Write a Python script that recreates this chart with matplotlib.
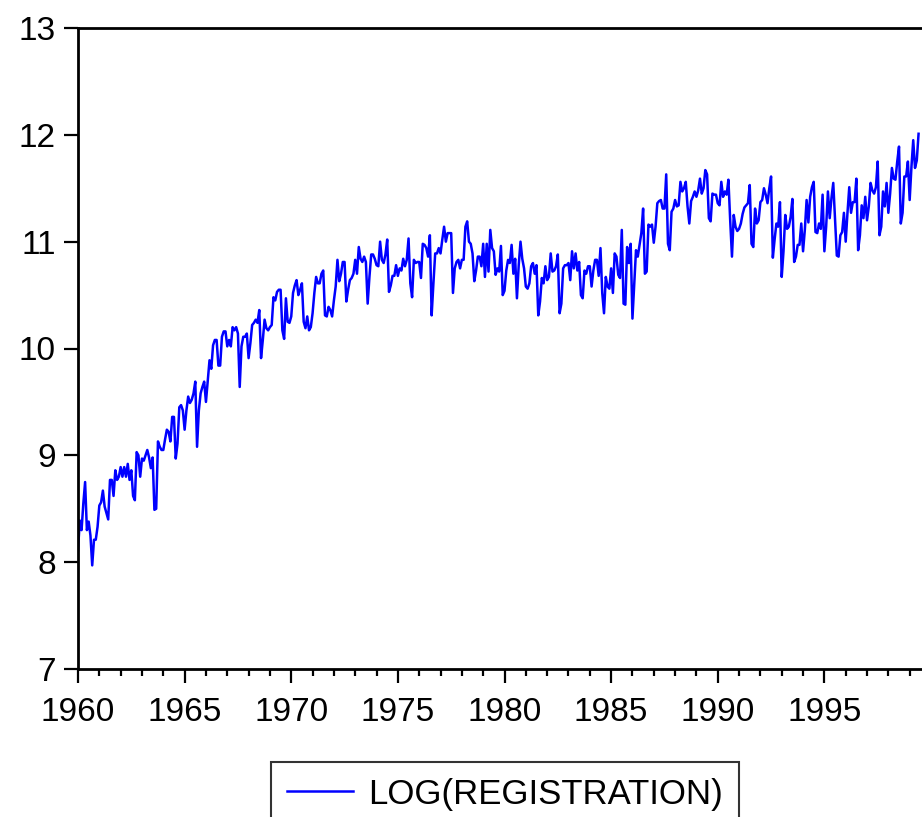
import matplotlib
matplotlib.use("Agg")
import matplotlib.pyplot as plt
import numpy as np

plt.rcParams['font.family'] = ['Liberation Sans', 'DejaVu Sans']

# monthly log(registration), starting Jan 1960
vals_1960s = [
    8.11, 8.39, 8.30, 8.55, 8.75, 8.30, 8.38, 8.25, 7.97, 8.21, 8.21, 8.33,
    8.53, 8.56, 8.67, 8.52, 8.46, 8.40, 8.77, 8.77, 8.62, 8.86, 8.77, 8.80,
    8.89, 8.80, 8.89, 8.80, 8.92, 8.77, 8.86, 8.62, 8.58, 9.03, 9.00, 8.80,
    8.97, 8.95, 9.00, 9.05, 8.98, 8.88, 8.98, 8.49, 8.50, 9.13, 9.08, 9.05,
    9.05, 9.15, 9.24, 9.22, 9.13, 9.36, 9.36, 8.97, 9.11, 9.45, 9.47, 9.42,
    9.24, 9.42, 9.55, 9.49, 9.52, 9.58, 9.69, 9.08, 9.42, 9.58, 9.64, 9.69,
    9.50, 9.70, 9.89, 9.81, 10.03, 10.08, 10.08, 9.84, 9.84, 10.11, 10.16, 10.16,
    10.02, 10.08, 10.02, 10.20, 10.17, 10.20, 10.14, 9.64, 10.02, 10.11, 10.11, 10.14,
    9.91, 10.05, 10.22, 10.24, 10.27, 10.24, 10.36, 9.91, 10.08, 10.27, 10.19, 10.17,
    10.20, 10.22, 10.48, 10.45, 10.53, 10.55, 10.55, 10.17, 10.09, 10.47, 10.25, 10.24,
]
vals_1970s = [
    10.30, 10.52, 10.59, 10.64, 10.50, 10.55, 10.61, 10.25, 10.19, 10.30, 10.17, 10.20,
    10.33, 10.52, 10.67, 10.61, 10.61, 10.70, 10.73, 10.31, 10.30, 10.39, 10.36, 10.30,
    10.45, 10.58, 10.83, 10.63, 10.70, 10.81, 10.81, 10.44, 10.55, 10.64, 10.66, 10.70,
    10.83, 10.70, 10.95, 10.84, 10.81, 10.86, 10.81, 10.42, 10.67, 10.88, 10.88, 10.84,
    10.78, 10.77, 11.00, 10.83, 10.80, 10.88, 11.02, 10.53, 10.59, 10.68, 10.68, 10.78,
    10.68, 10.75, 10.73, 10.84, 10.77, 10.83, 11.03, 10.61, 10.48, 10.83, 10.80, 10.81,
    10.81, 10.66, 10.98, 10.97, 10.94, 10.86, 11.06, 10.31, 10.61, 10.89, 10.89, 10.94,
    10.89, 11.02, 11.14, 11.00, 11.08, 11.08, 11.08, 10.52, 10.75, 10.81, 10.83, 10.75,
    10.83, 10.83, 11.14, 11.19, 11.00, 10.98, 10.89, 10.63, 10.73, 10.86, 10.86, 10.77,
    10.98, 10.67, 10.98, 10.72, 11.11, 10.94, 10.91, 10.69, 10.75, 10.72, 10.96, 10.50,
]
vals_1980s = [
    10.54, 10.73, 10.83, 10.80, 10.97, 10.70, 10.84, 10.47, 10.78, 11.00, 10.84, 10.75,
    10.58, 10.56, 10.61, 10.77, 10.80, 10.70, 10.78, 10.31, 10.44, 10.66, 10.61, 10.77,
    10.64, 10.67, 10.89, 10.72, 10.73, 10.77, 10.88, 10.33, 10.42, 10.75, 10.78, 10.78,
    10.80, 10.64, 10.91, 10.75, 10.89, 10.73, 10.81, 10.50, 10.47, 10.73, 10.70, 10.77,
    10.77, 10.58, 10.73, 10.83, 10.83, 10.68, 10.94, 10.52, 10.33, 10.67, 10.58, 10.56,
    10.75, 10.52, 10.89, 10.86, 10.69, 10.66, 11.11, 10.42, 10.41, 10.95, 10.80, 10.98,
    10.28, 10.61, 10.92, 10.86, 10.97, 11.08, 11.31, 10.70, 10.72, 11.16, 11.14, 11.16,
    10.99, 11.14, 11.36, 11.38, 11.39, 11.31, 11.31, 11.63, 10.98, 10.92, 11.28, 11.31,
    11.39, 11.33, 11.34, 11.56, 11.47, 11.50, 11.56, 11.33, 11.17, 11.38, 11.42, 11.47,
    11.42, 11.48, 11.59, 11.45, 11.50, 11.67, 11.63, 11.22, 11.19, 11.45, 11.44, 11.44,
]
vals_1990s = [
    11.36, 11.34, 11.56, 11.42, 11.47, 11.44, 11.58, 11.20, 10.86, 11.25, 11.14, 11.10,
    11.12, 11.17, 11.26, 11.32, 11.34, 11.36, 11.53, 10.98, 10.95, 11.31, 11.17, 11.20,
    11.37, 11.39, 11.50, 11.44, 11.36, 11.50, 11.61, 10.85, 11.02, 11.17, 11.14, 11.37,
    10.67, 10.91, 11.25, 11.12, 11.14, 11.23, 11.40, 10.81, 10.86, 10.97, 10.97, 11.17,
    10.91, 11.11, 11.39, 11.18, 11.42, 11.51, 11.56, 11.09, 11.08, 11.17, 11.12, 11.44,
    10.91, 11.14, 11.47, 11.22, 11.41, 11.55, 11.20, 10.87, 10.86, 11.06, 11.09, 11.27,
    11.00, 11.27, 11.51, 11.27, 11.37, 11.37, 11.59, 10.92, 11.06, 11.34, 11.22, 11.42,
    11.20, 11.33, 11.55, 11.48, 11.45, 11.51, 11.75, 11.06, 11.14, 11.47, 11.33, 11.55,
    11.27, 11.45, 11.69, 11.59, 11.58, 11.75, 11.89, 11.17, 11.27, 11.61, 11.61, 11.75,
    11.39, 11.70, 11.95, 11.69, 11.76, 12.01,
]

series = np.array(vals_1960s + vals_1970s + vals_1980s + vals_1990s)
dates = 1960 + np.arange(len(series)) / 12.0

fig = plt.figure(figsize=(9.22, 8.17), dpi=100)
# axes run a bit past the right edge of the picture, as in the original
ax = fig.add_axes([78 / 922, 1 - 669 / 817, 853 / 922, 641 / 817])

ax.plot(dates, series, color='#0000ff', lw=1.8, label='LOG(REGISTRATION)')

ax.set_xlim(1960, 2000)
ax.set_ylim(7, 13)
ax.set_xticks(range(1960, 2000, 5))
ax.set_xticks(range(1960, 2000), minor=True)
ax.set_yticks(range(7, 14))

for s in ax.spines.values():
    s.set_linewidth(2.0)
ax.tick_params(axis='both', which='major', direction='out', labelsize=24,
               width=1.6, length=10, pad=6)
ax.tick_params(axis='x', which='major', pad=10)
ax.tick_params(axis='x', which='minor', direction='out', width=1.6, length=5)

leg = fig.legend(loc='upper center', bbox_to_anchor=(505 / 922, 1 - 762 / 817),
                 fontsize=25, frameon=True, fancybox=False, handlelength=1.9,
                 handletextpad=0.45, borderpad=0.45, borderaxespad=0)
leg.get_frame().set_edgecolor('black')
leg.get_frame().set_linewidth(1.5)
for h in leg.get_lines():
    h.set_linewidth(1.8)

fig.savefig('out.png', dpi=100)
